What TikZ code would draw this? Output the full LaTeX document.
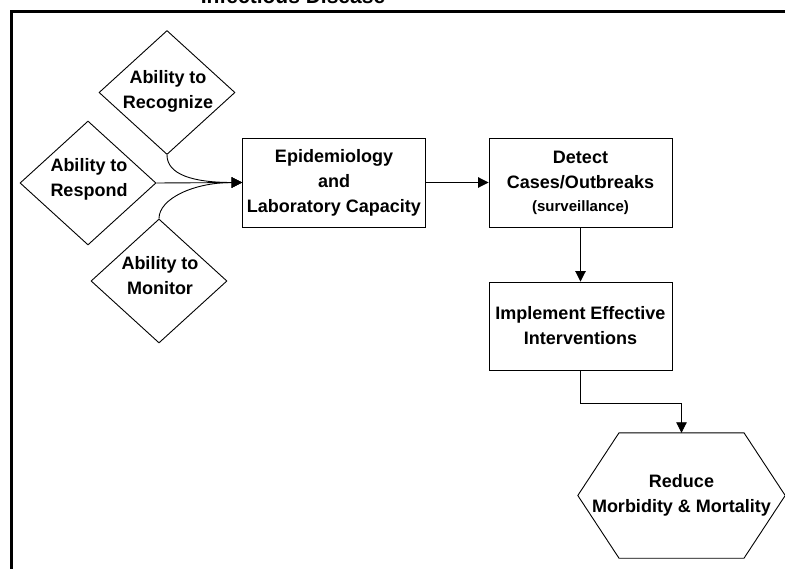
\documentclass[tikz,border=0pt]{standalone}
\usepackage{fontspec}
\setmainfont{Liberation Sans}
\usetikzlibrary{shapes.geometric,arrows.meta,calc}
\begin{document}
\begin{tikzpicture}[x=1pt,y=-1pt,
  txt/.style={font=\bfseries\fontsize{18}{25}\selectfont, align=center},
  boxnode/.style={draw, line width=0.9pt, minimum width=183pt, minimum height=89pt, inner sep=0pt, txt},
  dia/.style={draw, diamond, line width=0.9pt, minimum width=136pt, minimum height=124pt, inner sep=0pt},
  conn/.style={line width=0.9pt, -{Triangle[length=10.5pt,width=10.5pt]}},
  edge/.style={line width=0.9pt}
]
\clip (0,0) rectangle (785,569);
% frame
\draw[line width=3pt] (792,11.5) -- (11.5,11.5) -- (11.5,575);
\node[font=\bfseries\fontsize{21}{25}\selectfont, anchor=base] (title) at (293,4) {Infectious Disease};

% diamonds
\node[dia] (rec) at (167,92.5) {};
\node[txt] (rectxt) at (168,91.5) {Ability to\\Recognize};
\node[dia] (res) at (88,183) {};
\node[txt] (restxt) at (89,179.5) {Ability to\\Respond};
\node[dia] (mon) at (159,281) {};
\node[txt] (montxt) at (160,276) {Ability to\\Monitor};

% boxes
\node[boxnode] (epi) at (334,182.5) {Epidemiology\\and\\Laboratory Capacity};
\node[boxnode] (det) at (580.5,182.5) {Detect\\Cases/Outbreaks\\[-2pt]{\fontsize{15}{18}\selectfont (surveillance)}};
\node[boxnode, minimum height=88pt] (imp) at (580.5,326) {Implement Effective\\Interventions};

% hexagon
\node[txt, minimum width=207pt, minimum height=125pt, inner sep=0pt] (hex) at (681.5,495.5) {Reduce\\Morbidity \& Mortality};
\draw[edge] (hex.west) -- ($(hex.north)+(-62.5,0)$) -- ($(hex.north)+(62.5,0)$) -- (hex.east)
  -- ($(hex.south)+(62.5,0)$) -- ($(hex.south)+(-62.5,0)$) -- cycle;

% connectors
\draw[conn] (rec.south) .. controls +(0,20) and +(-48,0) .. (epi.west);
\draw[conn] (res.east) -- (epi.west);
\draw[conn] (mon.north) .. controls +(0,-20) and +(-48,0) .. (epi.west);
\draw[conn] (epi.east) -- (det.west);
\draw[conn] (det.south) -- (imp.north);
\draw[conn] (imp.south) -- ++(0,33) -| (hex.north);
\end{tikzpicture}
\end{document}
